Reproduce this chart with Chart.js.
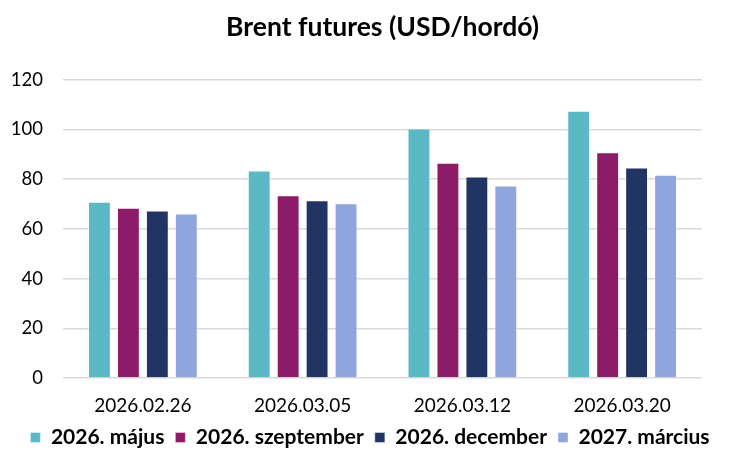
<!DOCTYPE html>
<html><head><meta charset="utf-8">
<script src="https://cdn.jsdelivr.net/npm/chart.js@4/dist/chart.umd.min.js"></script>
<style>html,body{margin:0;padding:0;background:#fff}#wrap{width:730px;height:460px}</style>
</head><body><div id="wrap"><canvas id="c"></canvas></div>
<script>
const categories = ["2026.02.26", "2026.03.05", "2026.03.12", "2026.03.20"];
const seriesNames = ["2026. május", "2026. szeptember", "2026. december", "2027. március"];
const maj = [70.9, 83.5, 100.4, 107.5];
const szept = [68.5, 73.5, 86.6, 90.8];
const dec = [67.4, 71.5, 81.1, 84.7];
const marc = [66.2, 70.3, 77.5, 81.8];
const yTicks = [0, 20, 40, 60, 80, 100, 120];
const colors = ["#5BB9C6", "#8E1B68", "#213565", "#8FA5DC"];
const values = [maj, szept, dec, marc];

new Chart(document.getElementById('c'), {
  type: 'bar',
  data: {
    labels: categories,
    datasets: values.map((v, i) => ({
      label: seriesNames[i], data: v, backgroundColor: colors[i],
      borderColor: 'rgba(255,255,255,0.4)', borderWidth: 1,
      categoryPercentage: 0.725, barPercentage: 0.79
    }))
  },
  options: {
    responsive: true, maintainAspectRatio: false, animation: false,
    layout: { padding: { left: 10, right: 0, top: 4, bottom: 2 } },
    plugins: {
      title: { display: true, fullSize: false, text: 'Brent futures (USD/hordó)', color: '#000',
        font: { family: 'Lato', size: 26.5, weight: 'bold' }, padding: { top: 8, bottom: 36 } },
      legend: { position: 'bottom', labels: { color: '#000', boxWidth: 10, boxHeight: 10,
        padding: 11, font: { family: 'Lato', size: 21, weight: 'bold' } } },
      tooltip: { enabled: false }
    },
    scales: {
      x: { grid: { display: false, drawTicks: false }, border: { display: false },
        afterFit: ax => { ax.height = 38; },
        ticks: { color: '#000', padding: 16, font: { family: 'Lato', size: 19 } } },
      y: { min: 0, max: 120, afterBuildTicks: ax => { ax.ticks = yTicks.map(v => ({ value: v })); },
        afterFit: ax => { ax.width = 53; },
        grid: { color: '#d9d9d9', lineWidth: 1.5, drawTicks: false }, border: { display: false },
        ticks: { color: '#000', padding: 20, font: { family: 'Lato', size: 18.5 } } },
      yR: { type: 'linear', position: 'right', display: true,
        grid: { display: false, drawTicks: false }, border: { display: false },
        ticks: { display: false }, afterFit: ax => { ax.width = 28; } }
    }
  }
});
</script></body></html>
